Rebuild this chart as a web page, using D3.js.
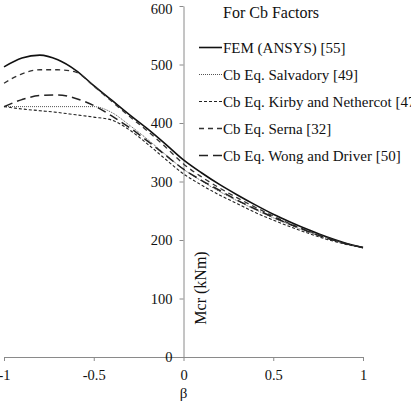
<!DOCTYPE html>
<html><head><meta charset="utf-8">
<script src="https://cdn.jsdelivr.net/npm/d3@7"></script>
<style>
html,body{margin:0;padding:0;background:#fff;}
svg text{font-family:"Liberation Serif","Times New Roman","DejaVu Serif",serif !important;}
</style></head>
<body><svg id="c" width="411" height="401"></svg>
<script>
const betas = [-1,-0.9,-0.8,-0.7,-0.6,-0.5,-0.4,-0.3,-0.2,-0.1,0,0.1,0.2,0.3,0.4,0.5,0.6,0.7,0.8,0.9,1];
const femAnsys   = [496,511,516,508,490,464,439,414,390,364,337,315,295,277,260,244,230,217,205,195,187];
const salvadory  = [428,428,428,428,428,428,418,396,372,346,321,301,283,267,252,238,225,213,203,194,187];
const kirby      = [428,424,421,418,414,410,405,388,364,338,313,294,277,262,247,234,222,211,201,193,187];
const serna      = [468,484,491,491,487,463,437,411,386,359,330,308,289,272,256,241,227,215,204,194,187];
const wong       = [428,440,447,448,442,430,412,392,369,345,321,302,285,268,253,239,226,214,203,194,187];
const seriesNames = ["FEM (ANSYS) [55]","Cb Eq. Salvadory [49]","Cb Eq. Kirby and Nethercot [47]","Cb Eq. Serna [32]","Cb Eq. Wong and Driver [50]"];
const xTicks = [-1,-0.5,0,0.5,1];
const yTicks = [0,100,200,300,400,500,600];
const legendTitle = "For Cb Factors";
const xLabel = "β";
const yLabel = "Mcr (kNm)";

const FONT = '"Liberation Serif","Times New Roman","DejaVu Serif",serif';
const styles = [
  {dash:null, w:1.6, c:"#111"},
  {dash:"1,1", w:1, c:"#555"},
  {dash:"3,2", w:1.1, c:"#222"},
  {dash:"5,4", w:1.3, c:"#333"},
  {dash:"9,5", w:1.5, c:"#222"}
];
const allSeries = [femAnsys, salvadory, kirby, serna, wong];

const svg = d3.select("#c").attr("font-family", FONT);
const x = d3.scaleLinear().domain([-1,1]).range([4,363]);
const y = d3.scaleLinear().domain([0,600]).range([357,6]);
const axisColor = "#8a8a8a";

const gx = svg.append("g").attr("transform",`translate(0,${y(0)})`)
  .call(d3.axisBottom(x).tickValues(xTicks).tickSize(4).tickSizeOuter(0).tickPadding(9).tickFormat(d=>String(d)));
const gy = svg.append("g").attr("transform",`translate(${x(0)},0)`)
  .call(d3.axisLeft(y).tickValues(yTicks).tickSize(4).tickSizeOuter(0).tickPadding(7).tickFormat(d=>String(d)));
[gx,gy].forEach(g=>{
  g.attr("font-family", FONT).attr("font-size", 14.5);
  g.select(".domain").attr("stroke",axisColor).attr("stroke-width",1);
  g.selectAll(".tick line").attr("stroke",axisColor);
  g.selectAll("text").attr("fill","#111").attr("font-family", FONT);
});
gy.selectAll(".tick text").filter(d=>d===600).attr("dy","0.5em");

const line = d3.line().x((d,i)=>x(betas[i])).y(d=>y(d)).curve(d3.curveMonotoneX);
allSeries.forEach((s,k)=>{
  svg.append("path").datum(s).attr("d",line).attr("fill","none")
    .attr("stroke",styles[k].c).attr("stroke-width",styles[k].w)
    .attr("stroke-dasharray",styles[k].dash);
});

svg.append("text").attr("x",x(0)).attr("y",398).attr("text-anchor","middle")
  .attr("font-family",FONT).attr("font-size",15).attr("fill","#111").text(xLabel);
svg.append("text").attr("transform",`translate(206,288) rotate(-90)`).attr("text-anchor","middle")
  .attr("font-family",FONT).attr("font-size",16).attr("fill","#111").text(yLabel);

svg.append("text").attr("x",223).attr("y",18).attr("font-family",FONT).attr("font-size",16).attr("fill","#111").text(legendTitle);
const lg = svg.append("g");
seriesNames.forEach((n,k)=>{
  const yy = 47.5 + k*27;
  lg.append("line").attr("x1",199).attr("x2",222).attr("y1",yy).attr("y2",yy)
    .attr("stroke",styles[k].c).attr("stroke-width",styles[k].w).attr("stroke-dasharray",styles[k].dash);
  lg.append("text").attr("x",223).attr("y",yy).attr("dy","0.35em").attr("font-family",FONT).attr("font-size",15).attr("fill","#111").text(n);
});
</script></body></html>
